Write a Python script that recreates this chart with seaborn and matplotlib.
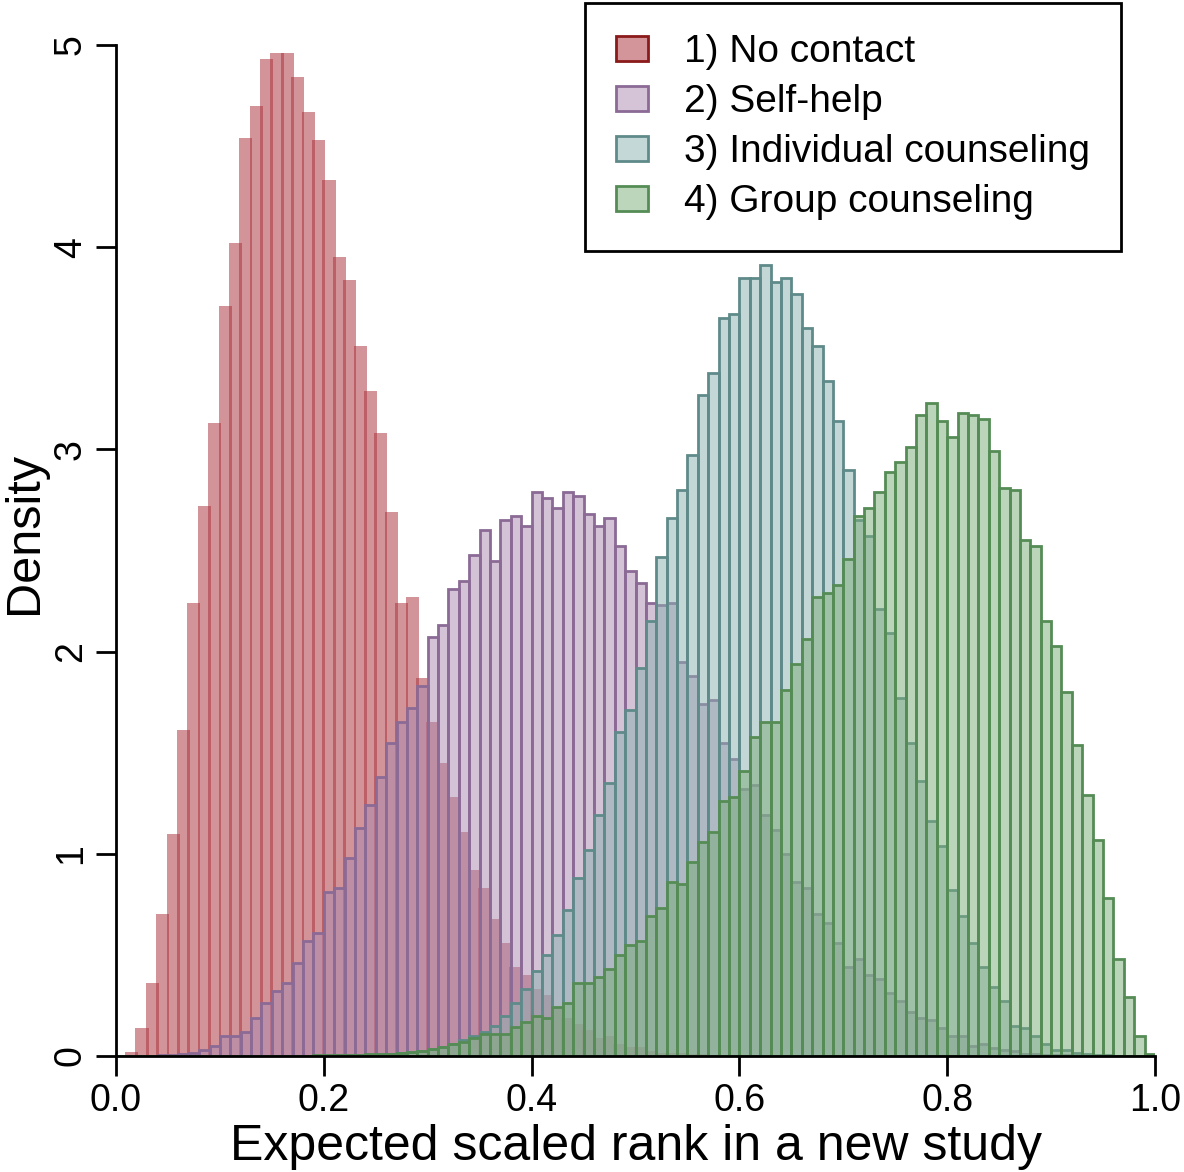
import numpy as np
import pandas as pd
import matplotlib
matplotlib.use("Agg")
import matplotlib.pyplot as plt
from matplotlib.patches import Patch
import seaborn as sns

# 100 bins of width 0.01 on [0, 1]; heights (density)
edges = np.linspace(0, 1, 101)
mids = (edges[:-1] + edges[1:]) / 2

no_contact = [
    0.005, 0.02, 0.14, 0.36, 0.70, 1.10, 1.61, 2.24, 2.72, 3.13,
    3.71, 4.02, 4.54, 4.70, 4.93, 4.96, 4.96, 4.84, 4.67, 4.53,
    4.33, 3.95, 3.84, 3.51, 3.29, 3.08, 2.69, 2.24, 2.27, 1.87,
    1.65, 1.45, 1.28, 1.11, 0.92, 0.83, 0.68, 0.56, 0.44, 0.40,
    0.33, 0.30, 0.24, 0.19, 0.16, 0.13, 0.09, 0.10, 0.06, 0.046,
    0.046, 0.026, 0.017, 0.017, 0.015, 0.012, 0.01, 0.005, 0.004, 0.003,
    0.002, 0.002, 0.001, 0.001, 0.001, 0, 0, 0, 0, 0,
    0, 0, 0, 0, 0, 0, 0, 0, 0, 0,
    0, 0, 0, 0, 0, 0, 0, 0, 0, 0,
    0, 0, 0, 0, 0, 0, 0, 0, 0, 0,
]

self_help = [
    0, 0, 0.001, 0.002, 0.004, 0.006, 0.01, 0.015, 0.03, 0.05,
    0.10, 0.10, 0.12, 0.19, 0.26, 0.32, 0.36, 0.46, 0.57, 0.61,
    0.81, 0.83, 0.98, 1.13, 1.24, 1.38, 1.55, 1.65, 1.72, 1.83,
    2.07, 2.13, 2.31, 2.35, 2.48, 2.60, 2.45, 2.65, 2.67, 2.62,
    2.79, 2.76, 2.71, 2.79, 2.77, 2.68, 2.62, 2.66, 2.52, 2.40,
    2.34, 2.24, 2.23, 2.24, 1.95, 1.88, 1.74, 1.76, 1.55, 1.47,
    1.32, 1.34, 1.19, 1.12, 1.00, 0.86, 0.83, 0.70, 0.66, 0.56,
    0.44, 0.48, 0.40, 0.38, 0.31, 0.27, 0.22, 0.19, 0.18, 0.14,
    0.10, 0.10, 0.05, 0.06, 0.04, 0.03, 0.025, 0.01, 0.01, 0.005,
    0.004, 0.003, 0.002, 0.002, 0.001, 0.001, 0, 0, 0, 0,
]

individual = [
    0, 0, 0, 0, 0, 0, 0, 0, 0, 0,
    0, 0, 0, 0, 0, 0, 0, 0, 0.001, 0.001,
    0.002, 0.003, 0.004, 0.005, 0.006, 0.008, 0.01, 0.014, 0.02, 0.027,
    0.035, 0.045, 0.06, 0.08, 0.10, 0.12, 0.15, 0.20, 0.26, 0.33,
    0.42, 0.50, 0.60, 0.72, 0.88, 1.02, 1.19, 1.35, 1.60, 1.71,
    1.92, 2.15, 2.47, 2.66, 2.80, 2.97, 3.27, 3.38, 3.65, 3.67,
    3.85, 3.85, 3.91, 3.83, 3.85, 3.77, 3.60, 3.51, 3.34, 3.14,
    2.90, 2.65, 2.57, 2.21, 2.09, 1.77, 1.55, 1.36, 1.16, 1.04,
    0.82, 0.69, 0.56, 0.44, 0.34, 0.27, 0.15, 0.14, 0.10, 0.06,
    0.03, 0.03, 0.015, 0.008, 0.005, 0.003, 0.001, 0.001, 0.001, 0.001,
]

group = [
    0, 0, 0, 0, 0, 0, 0, 0, 0, 0,
    0, 0, 0, 0, 0, 0.001, 0.001, 0.002, 0.002, 0.003,
    0.003, 0.004, 0.005, 0.006, 0.008, 0.01, 0.012, 0.015, 0.02, 0.025,
    0.035, 0.045, 0.06, 0.07, 0.09, 0.11, 0.11, 0.11, 0.145, 0.17,
    0.20, 0.19, 0.24, 0.26, 0.36, 0.36, 0.39, 0.43, 0.50, 0.55,
    0.57, 0.69, 0.73, 0.86, 0.85, 0.96, 1.06, 1.11, 1.26, 1.28,
    1.41, 1.58, 1.65, 1.65, 1.81, 1.94, 2.06, 2.27, 2.29, 2.33,
    2.46, 2.67, 2.71, 2.79, 2.89, 2.94, 3.01, 3.17, 3.23, 3.14,
    3.06, 3.18, 3.17, 3.15, 2.99, 2.81, 2.80, 2.55, 2.52, 2.15,
    2.03, 1.80, 1.54, 1.29, 1.07, 0.78, 0.48, 0.29, 0.10, 0.01,
]

labels = ["1) No contact", "2) Self-help", "3) Individual counseling", "4) Group counseling"]
series = [no_contact, self_help, individual, group]
base = [(169, 43, 53), (171, 137, 177), (139, 177, 177), (121, 173, 121)]
edge = ["#8b1a1a", "#8b6a95", "#5f8a8a", "#558c55"]

def rgba(c, a):
    return (c[0] / 255, c[1] / 255, c[2] / 255, a)

def on_white(c, a=0.5):
    return tuple((a * v + (1 - a) * 255) / 255 for v in c)

sns.set_style("ticks")
plt.rcParams["font.family"] = ["Liberation Sans", "DejaVu Sans"]
for k in ["text.color", "axes.labelcolor", "xtick.color", "ytick.color", "axes.edgecolor"]:
    plt.rcParams[k] = "black"

fig = plt.figure(figsize=(11.84, 11.72), dpi=100)
ax = fig.add_axes([116 / 1184, 1 - 1056 / 1172, (1155 - 116) / 1184, (1056 - 45) / 1172])

for i, vals in enumerate(series):
    df = pd.DataFrame({"mid": mids, "h": vals})
    if i == 0:
        # no border here, bars a bit wider so neighbours overlap into darker strips
        sns.histplot(data=df, x="mid", weights="h", bins=100, binrange=(0, 1),
                     stat="count", ax=ax, shrink=1.26,
                     facecolor=rgba(base[i], 0.5), edgecolor="none", linewidth=0)
    else:
        sns.histplot(data=df, x="mid", weights="h", bins=100, binrange=(0, 1),
                     stat="count", ax=ax,
                     facecolor=rgba(base[i], 0.5), edgecolor=edge[i], linewidth=2)

ax.set_xlim(0, 1)
ax.set_ylim(0, 5)
ax.set_xticks([0, 0.2, 0.4, 0.6, 0.8, 1.0])
ax.set_xticklabels(["0.0", "0.2", "0.4", "0.6", "0.8", "1.0"])
ax.set_yticks([0, 1, 2, 3, 4, 5])
ax.set_yticklabels(["0", "1", "2", "3", "4", "5"])
ax.tick_params(length=14.5, width=2, labelsize=27, pad=5, color="black", labelcolor="black")
ax.tick_params(axis="y", labelrotation=90)
for t in ax.get_yticklabels():
    t.set_verticalalignment("center")
sns.despine(ax=ax)
for s in ["left", "bottom"]:
    ax.spines[s].set_linewidth(2)
    ax.spines[s].set_color("black")

ax.set_xlabel("Expected scaled rank in a new study", fontsize=36)
ax.xaxis.set_label_coords(0.5, -0.0668)
ax.set_ylabel("Density", fontsize=35)
ax.yaxis.set_label_coords(-0.0664, 0.517)

handles = [Patch(facecolor=on_white(base[i]), edgecolor=edge[i], linewidth=2) for i in range(4)]
leg = fig.legend(handles, labels, loc="upper right",
                 bbox_to_anchor=(1121 / 1184, 1 - 3 / 1172), bbox_transform=fig.transFigure,
                 fontsize=28, frameon=True, fancybox=False, edgecolor="black",
                 handlelength=0.82, handleheight=0.62, handletextpad=0.92,
                 labelspacing=0.36, borderpad=0.8, borderaxespad=0)
leg.get_frame().set_linewidth(2)
leg.get_frame().set_alpha(1)

fig.savefig("out.png", dpi=100)
